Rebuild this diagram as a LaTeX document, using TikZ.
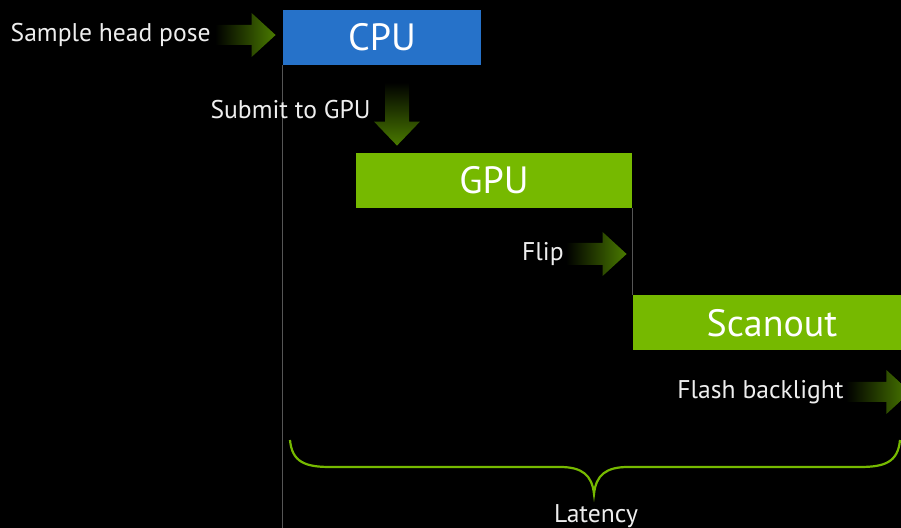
\documentclass[tikz,border=0pt]{standalone}
\usepackage{fontspec}
\setmainfont{PT Sans}
\usetikzlibrary{calc,positioning}
\definecolor{nvgreen}{RGB}{118,185,0}
\definecolor{cpublue}{RGB}{38,114,201}
\definecolor{arrgreen}{RGB}{74,122,0}
\definecolor{rulegray}{RGB}{85,85,85}
\definecolor{softwhite}{RGB}{238,238,238}
\begin{document}
\begin{tikzpicture}[x=0.5pt,y=-0.5pt]
  \tikzset{ stagebox/.style={inner sep=0pt,minimum height=27.5pt,text=white,font=\fontsize{19}{19}\selectfont},
    lbl/.style={text=softwhite,inner sep=0pt,anchor=east,font=\fontsize{12.8}{12.8}\selectfont},
    rule/.style={rulegray,line width=0.6pt},
    fatright/.style={left color=black,right color=arrgreen},
    fatdown/.style={top color=black,bottom color=arrgreen},
  }
  % the background
  \fill[black] (0,0) rectangle (901,528);
  \useasboundingbox (0,0) rectangle (901,528);
  \clip (0,0) rectangle (901,528);
  \coordinate (floor) at (283,528);
  % the three stages
  \node[stagebox,fill=cpublue,minimum width=99pt] (cpu) at (382,37.5) {CPU};
  \node[stagebox,fill=nvgreen,minimum width=138pt] (gpu) at (494,180.5) {GPU};
  \node[stagebox,fill=nvgreen,minimum width=139pt] (scan) at (772,323) {Scanout};
  % the thin rules
  \draw[rule] (cpu.south west) -- (cpu.south west |- floor);
  \draw[rule] (gpu.south east) -- (gpu.south east |- scan.north);
  % the labels
  \node[lbl] (sample) at (211,35) {Sample head pose};
  \node[lbl] (submit) at (371,110) {Submit to GPU};
  \node[lbl] (flip) at (564,254) {Flip};
  \node[lbl] (flash) at (844,392) {Flash backlight};
  % the fat arrows
  \shade[fatright] let \p1=(sample.east), \p2=(cpu.west), \p3=(\x2-3.5pt,\y1) in
    (\x1+2pt,\y3+5pt) -- (\x3-12pt,\y3+5pt) -- (\x3-12pt,\y3+11pt) -- (\p3)
    -- (\x3-12pt,\y3-11pt) -- (\x3-12pt,\y3-5pt) -- (\x1+2pt,\y3-5pt) -- cycle;
  \shade[fatdown] let \p1=(submit.east), \p2=(cpu.south), \p3=(gpu.north), \p4=(\x1+13pt,\y3+3.5pt) in
    (\x4-6pt,\y2-8.5pt) -- (\x4-6pt,\y4+12pt) -- (\x4-11.5pt,\y4+12pt) -- (\p4)
    -- (\x4+11.5pt,\y4+12pt) -- (\x4+6pt,\y4+12pt) -- (\x4+6pt,\y2-8.5pt) -- cycle;
  \shade[fatright] let \p1=(flip.east), \p2=(scan.north west), \p3=(\x2-3pt,\y1) in
    (\x1+1pt,\y3+5.5pt) -- (\x3-12pt,\y3+5.5pt) -- (\x3-12pt,\y3+11pt) -- (\p3)
    -- (\x3-12pt,\y3-11pt) -- (\x3-12pt,\y3-5.5pt) -- (\x1+1pt,\y3-5.5pt) -- cycle;
  \shade[fatright] let \p1=(flash.east), \p2=(scan.east), \p3=(\x2-0.5pt,\y1) in
    (\x1+1pt,\y3+5pt) -- (\x3-12pt,\y3+5pt) -- (\x3-12pt,\y3+11pt) -- (\p3)
    -- (\x3-12pt,\y3-11pt) -- (\x3-12pt,\y3-5pt) -- (\x1+1pt,\y3-5pt) -- cycle;
  % the brace
  \coordinate (tip) at (594,494);
  \draw[nvgreen,line width=1.1pt] (290,440) .. controls (292,462) and (305,467) .. (330,467)
    -- (560,467) .. controls (582,467) and (592,475) .. (tip)
    .. controls (596,475) and (606,467) .. (628,467)
    -- (860,467) .. controls (885,467) and (898,462) .. (900,440);
  \node[lbl,anchor=center] (lat) at (596,516) {Latency};
\end{tikzpicture}
\end{document}
